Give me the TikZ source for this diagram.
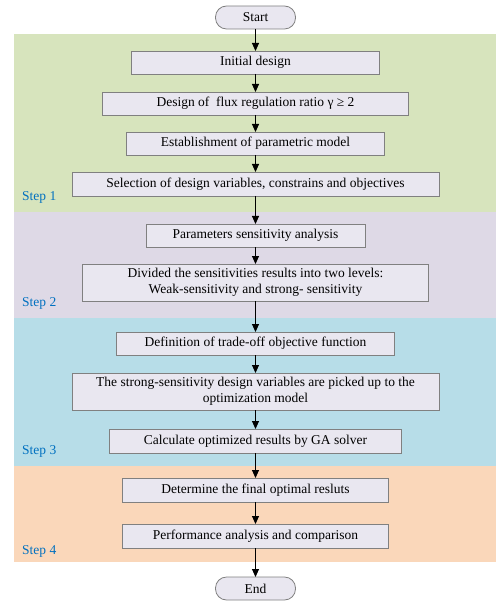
\documentclass[tikz,border=0pt]{standalone}
\usepackage{fontspec}
\setmainfont{Liberation Serif}
\usetikzlibrary{arrows.meta, positioning}
\definecolor{cBoxFill}{RGB}{233,231,240}
\definecolor{cBoxLine}{RGB}{128,128,128}
\definecolor{cStepOne}{RGB}{215,228,189}
\definecolor{cStepTwo}{RGB}{222,217,230}
\definecolor{cStepThree}{RGB}{183,221,232}
\definecolor{cStepFour}{RGB}{250,215,186}
\definecolor{cLabel}{RGB}{0,112,192}
\tikzset{
	startstop/.style={rectangle, rounded corners=11pt, minimum width=80pt, minimum height=23pt, inner sep=0pt, outer sep=0pt, align=center, draw=cBoxLine, fill=cBoxFill, line width=0.8pt},
	process/.style  ={rectangle, minimum height=23pt, inner sep=0pt, outer sep=0pt, align=center, draw=cBoxLine, fill=cBoxFill, line width=0.8pt},
	flowarrow/.style={-{Triangle[length=8pt, width=7pt]}, line width=0.9pt},
	% labels of the coloured step bands
	steplabel/.style={anchor=west, inner sep=0pt, text=cLabel},
}
\begin{document}
\begin{tikzpicture}[x=1pt, y=-1pt, font=\fontsize{13.5}{16}\selectfont]
			\useasboundingbox (0,0) rectangle (500,601);
			% step bands
			\fill[cStepOne] (14,34) rectangle (496,212);
			\fill[cStepTwo] (14,212) rectangle (496,318);
			\fill[cStepThree] (14,318) rectangle (496,466);
			\fill[cStepFour] (14,466) rectangle (496,562);
			\node[steplabel] (lone) at (22,197) {Step 1};
			\node[steplabel] (ltwo) at (22,303) {Step 2};
			\node[steplabel] (lthree) at (22,451) {Step 3};
			\node[steplabel] (lfour) at (22,551) {Step 4};
			% flow
			\node[startstop] (start) at (255.5,17.5) {Start};
			\node[process, minimum width=248pt, below=22pt of start] (init) {Initial design};
			\node[process, minimum width=306pt, below=18pt of init] (flux) {Design of~ flux regulation ratio γ ≥ 2};
			\node[process, minimum width=258pt, below=17pt of flux] (model) {Establishment of parametric model};
			\node[process, minimum width=367pt, minimum height=24pt, below=17pt of model] (select) {Selection of design variables, constrains and objectives};
			\node[process, minimum width=219pt, below=28pt of select] (sens) {Parameters sensitivity analysis};
			\node[process, minimum width=346pt, minimum height=37pt, below=17pt of sens] (levels) {Divided the sensitivities results into two levels:\\ Weak-sensitivity and strong- sensitivity};
			\node[process, minimum width=278pt, below=31pt of levels] (objfun) {Definition of trade-off objective function};
			\node[process, minimum width=367pt, minimum height=37pt, below=18pt of objfun] (pick) {The strong-sensitivity design variables are picked up to the\\ optimization model};
			\node[process, minimum width=292pt, minimum height=24pt, below=19pt of pick] (ga) {Calculate optimized results by GA solver};
			\node[process, minimum width=266pt, minimum height=24pt, below=25pt of ga] (final) {Determine the final optimal resluts};
			\node[process, minimum width=266pt, minimum height=24pt, below=22pt of final] (perf) {Performance analysis and comparison};
			\node[startstop, below=29pt of perf] (stop) {End};
			\draw[flowarrow] (start) -- (init);
			\draw[flowarrow] (init) -- (flux);
			\draw[flowarrow] (flux) -- (model);
			\draw[flowarrow] (model) -- (select);
			\draw[flowarrow] (select) -- (sens);
			\draw[flowarrow] (sens) -- (levels);
			\draw[flowarrow] (levels) -- (objfun);
			\draw[flowarrow] (objfun) -- (pick);
			\draw[flowarrow] (pick) -- (ga);
			\draw[flowarrow] (ga) -- (final);
			\draw[flowarrow] (final) -- (perf);
			\draw[flowarrow] (perf) -- (stop);
		\end{tikzpicture}
\end{document}
